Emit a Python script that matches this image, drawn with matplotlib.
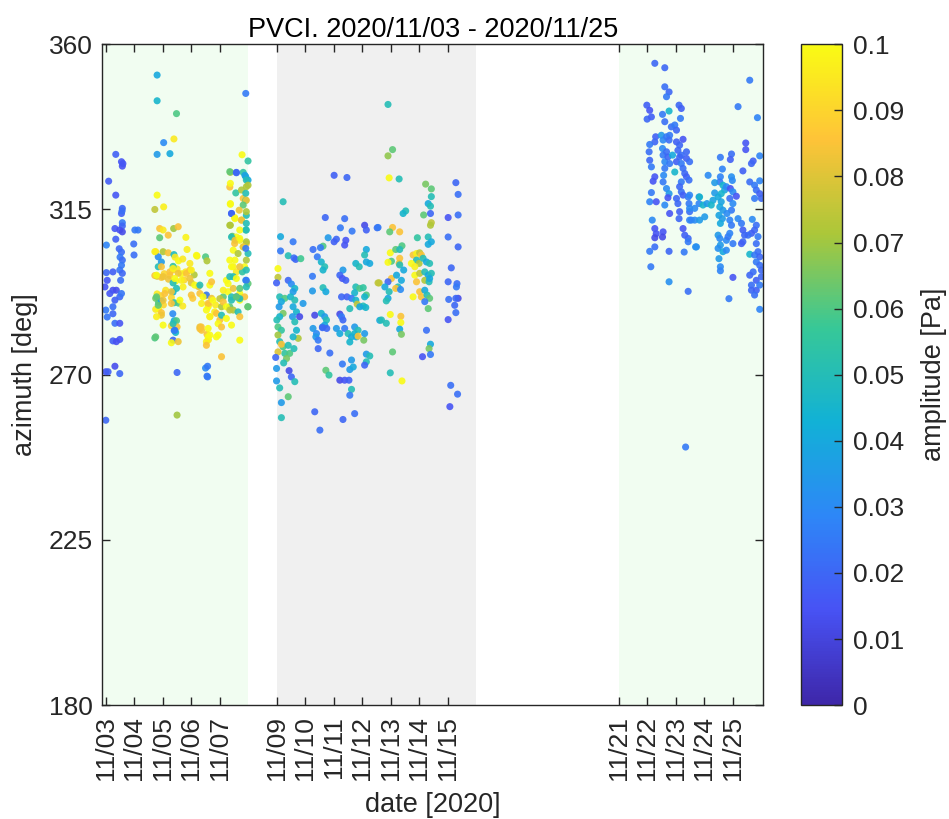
import numpy as np
import matplotlib
matplotlib.use("Agg")
import matplotlib.pyplot as plt
from matplotlib.colors import LinearSegmentedColormap

plt.rcParams['font.family'] = ['Liberation Sans', 'DejaVu Sans']

# detections: (day of November 2020, azimuth [deg], amplitude [Pa])
nov03 = [
    (3.35, 330.0, 0.018), (3.55, 328.0, 0.015), (3.58, 326.8, 0.014), (3.60, 327.5, 0.016),
    (3.10, 322.7, 0.017), (3.35, 318.9, 0.016), (3.58, 315.3, 0.020), (3.55, 313.9, 0.018),
    (3.57, 314.6, 0.022), (3.58, 311.4, 0.025), (3.58, 310.5, 0.020), (3.32, 309.8, 0.016),
    (3.49, 309.4, 0.014), (3.58, 308.9, 0.012), (3.02, 305.3, 0.028), (3.35, 306.9, 0.018),
    (4.02, 309.4, 0.025), (4.13, 309.4, 0.025), (3.98, 305.6, 0.022), (3.99, 302.6, 0.022),
    (3.47, 304.3, 0.020), (3.55, 303.4, 0.022), (3.50, 302.0, 0.025), (3.58, 301.2, 0.022),
    (3.55, 299.8, 0.025), (3.49, 298.5, 0.024), (3.58, 297.6, 0.020), (3.52, 295.7, 0.022),
    (3.02, 297.8, 0.020), (3.25, 298.0, 0.018), (3.05, 295.7, 0.016), (2.97, 293.9, 0.015),
    (3.25, 293.0, 0.014), (3.37, 293.0, 0.013), (3.14, 292.1, 0.016), (3.32, 290.3, 0.018),
    (3.49, 291.2, 0.020), (3.55, 292.1, 0.024), (3.00, 287.6, 0.025), (3.25, 288.5, 0.022),
    (3.05, 285.7, 0.024), (3.25, 286.6, 0.020), (3.32, 284.0, 0.022), (3.49, 284.0, 0.015),
    (3.25, 279.2, 0.018), (3.49, 279.6, 0.016), (3.37, 279.0, 0.014), (3.32, 272.3, 0.013),
    (3.00, 270.8, 0.016), (3.08, 270.8, 0.018), (3.49, 270.3, 0.020), (3.00, 257.6, 0.020),
]

nov05 = [
    (4.80, 351.6, 0.040), (4.80, 344.6, 0.045), (5.48, 341.1, 0.060), (5.03, 333.2, 0.030),
    (5.39, 334.2, 0.095), (4.80, 330.0, 0.035), (5.25, 330.2, 0.040), (4.80, 318.9, 0.100),
    (5.03, 315.7, 0.097), (4.72, 315.0, 0.075), (4.89, 309.8, 0.085), (5.01, 309.4, 0.095),
    (5.19, 308.0, 0.085), (5.38, 309.8, 0.070), (5.54, 310.3, 0.085), (4.89, 307.3, 0.062),
    (5.81, 307.4, 0.098), (5.85, 304.1, 0.097), (4.75, 303.5, 0.092), (5.01, 303.5, 0.072),
    (5.19, 303.2, 0.085), (5.39, 302.7, 0.048), (4.84, 302.1, 0.030), (4.95, 300.7, 0.035),
    (5.43, 302.0, 0.095), (5.55, 301.0, 0.100), (5.70, 301.5, 0.095), (6.20, 302.3, 0.095),
    (6.50, 302.1, 0.060), (6.55, 301.0, 0.072), (4.84, 299.4, 0.050), (4.72, 297.0, 0.085),
    (4.80, 296.8, 0.080), (4.95, 296.5, 0.085), (5.05, 297.5, 0.090), (5.25, 297.0, 0.085),
    (5.35, 298.5, 0.090), (5.50, 298.8, 0.095), (5.65, 297.5, 0.098), (5.80, 298.0, 0.095),
    (5.95, 298.5, 0.085), (6.10, 297.2, 0.072), (5.20, 296.0, 0.083), (5.45, 295.5, 0.100),
    (5.75, 295.8, 0.090), (6.00, 295.0, 0.080), (6.25, 294.0, 0.082), (5.36, 299.5, 0.055),
    (5.36, 295.0, 0.050), (5.36, 292.5, 0.045), (4.80, 292.0, 0.095), (4.93, 291.5, 0.090),
    (5.10, 293.0, 0.094), (4.75, 290.8, 0.065), (4.85, 289.6, 0.060), (4.95, 290.0, 0.040),
    (5.02, 289.0, 0.090), (5.30, 291.0, 0.090), (5.40, 289.6, 0.050), (5.55, 289.5, 0.060),
    (5.70, 288.7, 0.095), (6.05, 290.8, 0.087), (6.50, 291.5, 0.090), (6.60, 289.0, 0.085),
    (6.85, 289.0, 0.096), (4.75, 287.8, 0.095), (4.85, 287.9, 0.100), (4.95, 286.9, 0.085),
    (5.35, 286.6, 0.030), (5.40, 284.7, 0.040), (5.48, 284.7, 0.060), (5.50, 283.0, 0.085),
    (5.30, 283.3, 0.090), (4.72, 280.0, 0.060), (5.40, 282.0, 0.025), (5.45, 281.5, 0.045),
    (6.30, 282.5, 0.085), (6.55, 281.0, 0.085), (6.60, 279.5, 0.095), (6.50, 271.8, 0.030),
    (5.50, 270.6, 0.020), (6.55, 269.6, 0.025), (5.50, 259.0, 0.070),
]

nov06 = [
    (4.72, 303.5, 0.097), (4.95, 299.4, 0.085), (4.78, 297.1, 0.100), (5.01, 296.7, 0.083),
    (5.25, 298.0, 0.085), (5.36, 298.9, 0.097), (5.54, 297.6, 0.083), (5.42, 296.2, 0.100),
    (5.65, 295.7, 0.097), (5.83, 297.6, 0.085), (6.00, 298.5, 0.097), (5.95, 296.2, 0.083),
    (6.12, 294.4, 0.100), (6.30, 294.4, 0.050), (5.71, 293.9, 0.097), (5.48, 293.5, 0.050),
    (5.30, 292.6, 0.083), (5.07, 292.1, 0.085), (4.78, 291.2, 0.062), (5.01, 290.3, 0.083),
    (4.84, 288.9, 0.062), (5.30, 289.4, 0.085), (5.60, 290.3, 0.100), (6.00, 291.7, 0.085),
    (6.36, 289.4, 0.097), (6.53, 291.7, 0.025), (6.65, 294.4, 0.100), (6.71, 290.8, 0.083),
    (6.59, 288.5, 0.100), (6.82, 287.1, 0.097), (6.65, 285.8, 0.100), (7.06, 288.5, 0.072),
    (7.00, 284.9, 0.085), (7.12, 291.2, 0.062), (7.29, 292.6, 0.100), (7.35, 288.5, 0.062),
    (7.47, 287.6, 0.072), (7.70, 290.3, 0.100), (7.64, 287.1, 0.050), (7.70, 291.2, 0.048),
    (4.95, 286.2, 0.083), (4.78, 285.8, 0.097), (5.01, 283.5, 0.100), (5.36, 283.9, 0.050),
    (5.42, 282.1, 0.025), (5.36, 279.4, 0.020), (5.54, 279.0, 0.083), (5.30, 278.7, 0.100),
    (6.30, 283.0, 0.083), (6.36, 282.1, 0.085), (6.59, 280.3, 0.100), (6.53, 279.0, 0.097),
    (6.94, 280.8, 0.100), (4.75, 280.3, 0.062),
]

nov07 = [
    (7.91, 346.6, 0.025), (7.78, 329.9, 0.100), (7.99, 328.2, 0.055), (7.37, 325.1, 0.070),
    (7.58, 325.1, 0.020), (7.82, 325.1, 0.055), (7.91, 323.9, 0.040), (7.99, 323.0, 0.040),
    (7.93, 321.2, 0.072), (7.35, 321.1, 0.085), (7.56, 319.5, 0.055), (7.37, 316.4, 0.100),
    (7.82, 318.0, 0.085), (7.91, 317.5, 0.060), (7.41, 313.9, 0.018), (7.52, 312.8, 0.097),
    (7.37, 310.7, 0.072), (7.76, 312.1, 0.085), (7.93, 313.4, 0.050), (7.44, 307.7, 0.065),
    (7.58, 307.5, 0.100), (7.91, 309.4, 0.055), (7.52, 305.7, 0.085), (7.70, 306.6, 0.097),
    (7.93, 305.7, 0.085), (7.82, 304.8, 0.100), (7.99, 303.0, 0.050), (6.18, 302.5, 0.100),
    (5.95, 300.3, 0.095), (7.35, 301.2, 0.100), (7.47, 299.4, 0.098), (7.58, 298.0, 0.095),
    (7.87, 299.4, 0.100), (7.79, 298.0, 0.055), (7.91, 295.7, 0.030), (7.99, 294.8, 0.062),
    (7.47, 296.7, 0.050), (7.23, 295.7, 0.100), (7.12, 293.0, 0.097), (7.70, 292.1, 0.100),
    (7.87, 291.2, 0.085), (7.58, 291.2, 0.025), (7.41, 290.3, 0.050), (7.70, 290.7, 0.050),
    (7.98, 288.5, 0.065), (6.65, 297.6, 0.100), (6.71, 295.3, 0.085), (6.30, 292.1, 0.085),
    (6.41, 291.2, 0.100), (6.59, 289.4, 0.085), (6.76, 290.3, 0.100), (7.00, 290.7, 0.075),
    (7.12, 289.8, 0.085), (7.23, 288.5, 0.100), (7.35, 287.6, 0.075), (6.53, 287.6, 0.100),
    (6.65, 285.8, 0.097), (6.88, 286.7, 0.085), (7.06, 286.2, 0.050), (7.23, 285.3, 0.100),
    (6.35, 283.0, 0.085), (6.59, 282.6, 0.100), (6.94, 283.9, 0.100), (7.06, 283.0, 0.085),
    (7.41, 283.5, 0.100), (7.70, 285.8, 0.085), (6.65, 280.8, 0.100), (6.53, 278.0, 0.085),
    (6.88, 280.3, 0.100), (7.70, 279.4, 0.100), (7.06, 274.9, 0.085), (6.57, 272.3, 0.025),
    (6.57, 269.4, 0.025),
    (7.35, 325.3, 0.062), (7.58, 325.0, 0.020), (7.88, 324.3, 0.038), (7.93, 323.0, 0.050),
    (7.99, 321.6, 0.072), (7.37, 322.1, 0.100), (7.76, 320.3, 0.072), (7.91, 319.4, 0.050),
    (7.37, 316.6, 0.100), (7.93, 317.5, 0.083), (7.82, 316.2, 0.062), (7.41, 313.9, 0.020),
    (7.68, 314.8, 0.083), (7.93, 314.4, 0.072), (7.53, 312.5, 0.100), (7.76, 312.1, 0.083),
    (7.35, 310.7, 0.072), (7.93, 311.2, 0.050), (7.70, 309.4, 0.100), (7.93, 309.4, 0.050),
    (7.41, 307.5, 0.050), (7.53, 306.6, 0.083), (7.70, 307.1, 0.100), (7.93, 306.2, 0.072),
    (7.82, 304.8, 0.083), (7.91, 304.4, 0.025), (7.47, 303.9, 0.100), (7.64, 303.0, 0.072),
    (7.53, 301.2, 0.100), (7.93, 301.2, 0.072), (7.41, 299.4, 0.100), (7.70, 299.4, 0.083),
    (7.93, 298.5, 0.050), (7.35, 296.7, 0.050), (7.58, 296.2, 0.100), (7.93, 295.7, 0.025),
    (7.29, 294.8, 0.100), (7.47, 293.5, 0.083), (7.70, 293.5, 0.062), (7.93, 293.9, 0.050),
    (7.41, 291.2, 0.050), (7.58, 291.2, 0.062), (7.99, 288.5, 0.062),
]

nov09 = [
    (11.01, 324.3, 0.018), (11.46, 323.7, 0.020), (9.22, 317.1, 0.050), (10.70, 312.8, 0.020),
    (11.38, 312.5, 0.022), (11.23, 310.0, 0.025), (12.08, 310.7, 0.012), (12.14, 309.4, 0.018),
    (12.52, 310.0, 0.022), (11.64, 309.1, 0.025), (9.13, 307.6, 0.040), (9.57, 306.2, 0.025),
    (10.80, 307.3, 0.035), (11.09, 306.9, 0.020), (11.01, 306.2, 0.018), (11.42, 306.6, 0.015),
    (11.38, 305.3, 0.015), (10.62, 305.0, 0.060), (10.53, 304.6, 0.025), (10.27, 304.1, 0.022),
    (9.13, 303.7, 0.025), (12.14, 304.1, 0.040), (12.08, 302.6, 0.050), (9.40, 302.4, 0.050),
    (9.60, 301.8, 0.022), (9.66, 301.4, 0.020), (9.84, 301.6, 0.058), (10.42, 302.1, 0.025),
    (10.56, 300.7, 0.045), (10.68, 299.4, 0.050), (10.62, 298.5, 0.045), (11.77, 300.3, 0.045),
    (11.89, 299.4, 0.050), (12.14, 300.7, 0.040), (11.32, 298.5, 0.035), (9.04, 298.9, 0.100),
    (9.04, 296.5, 0.075), (10.25, 296.8, 0.025), (11.21, 297.1, 0.020), (11.30, 296.2, 0.015),
    (11.42, 295.7, 0.018), (8.99, 295.0, 0.018), (9.40, 295.7, 0.020), (9.51, 294.7, 0.030),
    (9.63, 293.5, 0.045), (9.57, 292.6, 0.035), (10.25, 292.8, 0.035), (10.62, 293.7, 0.050),
    (10.72, 292.6, 0.040), (12.55, 295.0, 0.075), (11.77, 293.9, 0.050), (11.91, 293.5, 0.060),
    (12.03, 293.7, 0.055), (11.73, 292.3, 0.045), (12.14, 291.7, 0.060), (12.08, 291.2, 0.045),
    (12.03, 288.7, 0.050), (12.12, 288.3, 0.045), (11.27, 291.2, 0.020), (11.46, 291.2, 0.018),
    (11.62, 290.8, 0.025), (11.77, 290.3, 0.045), (11.82, 289.2, 0.075), (11.56, 288.0, 0.050),
    (11.91, 288.5, 0.040), (9.10, 291.2, 0.050), (9.28, 290.8, 0.060), (9.16, 289.9, 0.040),
    (9.08, 288.5, 0.035), (9.22, 286.7, 0.065), (9.10, 285.8, 0.045), (9.48, 291.2, 0.045),
    (9.63, 290.3, 0.050), (9.57, 288.5, 0.040), (9.69, 287.1, 0.045), (9.55, 285.8, 0.035),
    (9.63, 284.4, 0.050), (9.69, 282.1, 0.045), (9.92, 289.4, 0.035), (9.80, 285.8, 0.012),
    (10.33, 286.2, 0.012), (10.56, 286.7, 0.045), (10.68, 285.8, 0.035), (10.74, 284.9, 0.050),
    (10.68, 283.5, 0.040), (10.60, 283.0, 0.035), (10.75, 282.6, 0.020), (11.21, 286.5, 0.012),
    (11.27, 285.8, 0.025), (11.32, 284.9, 0.020), (11.09, 282.6, 0.035), (11.21, 281.2, 0.040),
    (11.38, 282.6, 0.025), (11.50, 281.2, 0.050), (11.62, 280.3, 0.040), (11.56, 278.9, 0.045),
    (11.73, 283.0, 0.035), (11.85, 282.1, 0.050), (11.73, 281.2, 0.045), (11.79, 280.3, 0.040),
    (11.85, 280.5, 0.085), (12.05, 279.4, 0.065), (12.08, 281.2, 0.035), (10.27, 282.6, 0.035),
    (10.39, 281.2, 0.030), (10.37, 280.3, 0.035), (10.45, 279.4, 0.025), (10.60, 282.8, 0.020),
    (9.00, 284.9, 0.050), (9.04, 283.0, 0.060), (9.16, 282.1, 0.055), (9.04, 280.8, 0.070),
    (9.10, 279.0, 0.050), (9.22, 277.6, 0.060), (9.28, 275.8, 0.055), (9.04, 276.2, 0.080),
    (9.16, 278.3, 0.085), (9.40, 278.0, 0.050), (9.45, 275.8, 0.060), (9.34, 274.4, 0.065),
    (9.24, 273.2, 0.050), (9.75, 279.9, 0.072), (9.57, 280.3, 0.045), (9.60, 277.1, 0.050),
    (10.45, 277.1, 0.020), (10.86, 275.9, 0.022), (8.96, 274.7, 0.020), (11.30, 272.9, 0.025),
    (11.62, 274.0, 0.035), (11.56, 271.4, 0.035), (11.68, 272.1, 0.040), (12.14, 275.6, 0.035),
    (12.14, 273.5, 0.050), (12.08, 272.6, 0.020), (8.99, 271.7, 0.035), (9.43, 271.1, 0.012),
    (9.51, 269.4, 0.020), (9.63, 268.1, 0.050), (10.72, 271.2, 0.062), (10.83, 269.9, 0.055),
    (11.21, 268.5, 0.012), (11.38, 268.5, 0.015), (11.53, 268.5, 0.018), (11.62, 266.0, 0.050),
    (8.99, 268.3, 0.035), (9.10, 266.4, 0.050), (9.40, 264.0, 0.062), (9.16, 262.4, 0.035),
    (11.56, 264.4, 0.025), (9.16, 258.3, 0.050), (10.33, 259.9, 0.020), (11.32, 257.8, 0.020),
    (11.73, 259.4, 0.022), (10.51, 254.9, 0.022), (12.61, 284.8, 0.040),
]

nov13 = [
    (12.90, 343.6, 0.050), (13.06, 331.3, 0.062), (12.90, 329.6, 0.068), (12.94, 323.6, 0.100),
    (13.29, 323.3, 0.050), (14.22, 321.9, 0.065), (14.42, 320.6, 0.062), (14.42, 318.5, 0.050),
    (15.28, 322.3, 0.020), (15.36, 319.1, 0.022), (14.31, 316.6, 0.040), (14.39, 315.9, 0.050),
    (13.52, 314.6, 0.050), (13.43, 313.9, 0.045), (14.15, 313.5, 0.062), (14.39, 313.9, 0.020),
    (15.01, 312.8, 0.015), (15.36, 313.5, 0.022), (14.42, 311.4, 0.075), (14.39, 310.7, 0.072),
    (12.55, 310.1, 0.025), (13.06, 310.1, 0.085), (12.96, 308.9, 0.062), (13.31, 308.9, 0.085),
    (13.93, 307.3, 0.055), (14.31, 307.5, 0.050), (15.01, 307.5, 0.022), (13.39, 305.1, 0.060),
    (14.42, 306.2, 0.040), (14.31, 305.5, 0.040), (15.36, 304.8, 0.020), (12.98, 303.2, 0.100),
    (13.17, 304.1, 0.062), (13.31, 304.1, 0.050), (13.02, 300.9, 0.060), (12.90, 300.6, 0.100),
    (13.31, 301.7, 0.085), (13.29, 300.3, 0.082), (13.31, 299.9, 0.050), (13.78, 302.6, 0.085),
    (13.90, 303.0, 0.097), (14.01, 303.2, 0.075), (14.07, 302.6, 0.085), (13.90, 301.2, 0.050),
    (13.99, 300.3, 0.072), (14.13, 301.7, 0.050), (14.25, 300.7, 0.040), (14.36, 300.3, 0.050),
    (13.72, 300.3, 0.100), (13.84, 299.4, 0.097), (15.12, 299.1, 0.020), (13.84, 297.1, 0.100),
    (14.01, 297.6, 0.075), (14.19, 298.0, 0.050), (14.31, 297.1, 0.040), (14.42, 297.6, 0.050),
    (13.90, 295.3, 0.085), (14.19, 295.7, 0.072), (14.34, 295.3, 0.050), (14.36, 296.2, 0.040),
    (13.02, 296.2, 0.085), (12.90, 295.3, 0.020), (12.59, 295.0, 0.075), (12.79, 293.9, 0.040),
    (13.20, 297.1, 0.040), (13.37, 295.7, 0.040), (13.45, 298.5, 0.040), (13.25, 293.9, 0.050),
    (13.17, 293.5, 0.085), (13.34, 293.2, 0.030), (14.01, 292.6, 0.085), (14.07, 291.2, 0.085),
    (14.19, 293.0, 0.040), (14.27, 291.7, 0.050), (14.36, 290.8, 0.062), (14.19, 289.9, 0.025),
    (15.01, 295.3, 0.020), (15.32, 294.8, 0.022), (15.30, 293.9, 0.025), (15.36, 290.8, 0.012),
    (15.28, 290.8, 0.020), (15.03, 290.5, 0.022), (12.94, 292.6, 0.050), (12.90, 290.8, 0.040),
    (12.84, 290.1, 0.050), (13.78, 291.2, 0.100), (14.31, 288.0, 0.062), (15.24, 288.9, 0.020),
    (15.28, 286.9, 0.022), (15.01, 285.0, 0.015), (12.67, 284.9, 0.050), (12.84, 284.0, 0.050),
    (12.98, 286.4, 0.100), (13.35, 285.9, 0.085), (13.35, 284.2, 0.100), (13.31, 282.4, 0.040),
    (13.37, 281.0, 0.065), (14.25, 282.1, 0.022), (14.39, 278.3, 0.040), (14.34, 277.1, 0.065),
    (14.39, 275.5, 0.025), (14.11, 274.9, 0.015), (13.06, 276.2, 0.062), (12.98, 270.5, 0.050),
    (13.39, 268.3, 0.100), (15.10, 267.1, 0.022), (15.34, 264.7, 0.022), (15.07, 261.3, 0.015),
    (12.26, 275.1, 0.050), (12.26, 300.3, 0.040),
]

nov21 = [
    (22.26, 354.8, 0.020), (22.61, 353.6, 0.020), (22.61, 348.4, 0.022), (22.76, 347.0, 0.020),
    (22.67, 345.7, 0.025), (21.98, 343.4, 0.018), (22.08, 342.0, 0.015), (21.99, 339.6, 0.020),
    (22.14, 340.2, 0.018), (22.76, 341.8, 0.045), (22.53, 340.9, 0.025), (22.61, 338.9, 0.022),
    (23.11, 343.4, 0.020), (23.19, 342.5, 0.018), (23.16, 339.8, 0.025), (22.84, 337.5, 0.022),
    (22.96, 338.0, 0.025), (23.02, 336.6, 0.020), (22.29, 334.8, 0.018), (22.26, 333.4, 0.020),
    (22.08, 332.7, 0.025), (22.49, 335.2, 0.035), (22.55, 333.9, 0.030), (22.67, 334.8, 0.025),
    (22.78, 335.2, 0.025), (22.76, 333.9, 0.022), (23.02, 333.4, 0.018), (23.13, 332.5, 0.020),
    (23.25, 334.1, 0.015), (23.07, 331.1, 0.020), (23.19, 329.8, 0.022), (22.53, 331.6, 0.030),
    (22.55, 329.8, 0.025), (22.61, 328.0, 0.030), (22.61, 326.2, 0.025), (22.67, 330.7, 0.022),
    (22.72, 329.3, 0.020), (22.78, 327.5, 0.025), (22.88, 329.8, 0.040), (22.96, 325.2, 0.045),
    (23.02, 328.0, 0.018), (23.13, 329.3, 0.020), (23.19, 327.5, 0.025), (23.25, 326.2, 0.022),
    (23.37, 330.7, 0.020), (23.37, 328.9, 0.018), (23.48, 328.0, 0.022), (23.31, 324.8, 0.020),
    (23.37, 323.9, 0.018), (23.46, 323.0, 0.022), (23.19, 322.5, 0.025), (22.06, 330.7, 0.022),
    (22.08, 328.4, 0.020), (22.14, 326.6, 0.025), (22.26, 323.9, 0.015), (22.20, 322.7, 0.015),
    (22.57, 324.3, 0.030), (22.55, 322.5, 0.025), (22.67, 320.7, 0.030), (22.76, 319.3, 0.035),
    (23.13, 321.2, 0.020), (23.19, 319.8, 0.022), (23.25, 318.9, 0.018), (23.43, 318.4, 0.025),
    (23.02, 318.0, 0.020), (22.14, 319.6, 0.025), (22.08, 317.1, 0.028), (22.31, 317.1, 0.015),
    (22.61, 316.2, 0.030), (22.72, 318.2, 0.015), (23.07, 316.6, 0.020), (23.13, 314.4, 0.018),
    (23.11, 312.5, 0.020), (23.46, 316.6, 0.025), (23.48, 314.4, 0.022), (23.54, 312.1, 0.028),
    (23.66, 312.1, 0.030), (23.81, 318.4, 0.030), (23.81, 316.6, 0.028), (22.78, 313.9, 0.015),
    (22.17, 312.1, 0.030), (22.26, 309.8, 0.015), (22.31, 308.4, 0.015), (22.26, 307.3, 0.012),
    (22.55, 308.9, 0.015), (22.53, 307.5, 0.012), (23.25, 309.8, 0.015), (23.31, 308.0, 0.018),
    (23.43, 307.1, 0.020), (23.43, 306.2, 0.025), (23.69, 304.8, 0.032), (22.08, 303.6, 0.025),
    (22.26, 304.8, 0.022), (22.76, 303.6, 0.020), (23.29, 303.4, 0.025), (22.12, 299.4, 0.025),
    (22.76, 295.3, 0.032), (23.43, 292.7, 0.022), (23.34, 250.3, 0.025),
]

nov24 = [
    (25.59, 350.2, 0.025), (25.18, 343.0, 0.025), (25.86, 340.0, 0.028), (25.45, 333.1, 0.015),
    (25.45, 331.3, 0.015), (25.94, 329.6, 0.028), (24.95, 330.1, 0.022), (24.91, 328.6, 0.018),
    (24.56, 329.2, 0.025), (25.71, 328.2, 0.018), (25.65, 327.5, 0.020), (24.63, 326.0, 0.028),
    (25.35, 325.5, 0.018), (24.13, 324.3, 0.030), (24.56, 323.9, 0.028), (24.54, 322.5, 0.025),
    (24.95, 323.9, 0.032), (24.98, 322.9, 0.030), (24.36, 322.3, 0.035), (25.59, 322.5, 0.022),
    (25.76, 321.6, 0.025), (25.94, 322.8, 0.028), (24.65, 321.6, 0.045), (24.71, 320.3, 0.038),
    (24.77, 321.2, 0.030), (24.59, 319.3, 0.045), (24.91, 320.7, 0.015), (25.00, 319.8, 0.030),
    (25.12, 318.6, 0.015), (24.36, 319.5, 0.035), (24.30, 317.5, 0.038), (25.82, 320.3, 0.022),
    (25.94, 319.3, 0.018), (26.00, 318.0, 0.020), (25.76, 318.0, 0.025), (23.83, 318.4, 0.045),
    (23.95, 316.2, 0.045), (24.09, 316.6, 0.035), (24.24, 316.2, 0.045), (23.48, 318.9, 0.028),
    (23.48, 315.3, 0.030), (24.48, 318.4, 0.040), (24.59, 317.1, 0.038), (24.54, 315.7, 0.040),
    (24.65, 314.8, 0.035), (24.51, 313.4, 0.038), (24.63, 312.5, 0.035), (24.56, 311.2, 0.040),
    (24.89, 318.0, 0.022), (25.00, 316.6, 0.030), (24.95, 314.8, 0.025), (24.79, 313.9, 0.030),
    (24.89, 312.1, 0.028), (24.95, 310.7, 0.025), (25.18, 312.5, 0.030), (25.30, 311.2, 0.025),
    (25.68, 312.3, 0.030), (25.82, 310.7, 0.022), (25.76, 309.4, 0.020), (25.65, 308.5, 0.018),
    (25.53, 308.0, 0.022), (25.88, 307.6, 0.025), (25.82, 305.7, 0.022), (25.35, 309.4, 0.018),
    (25.41, 308.0, 0.020), (23.66, 315.3, 0.030), (23.83, 312.1, 0.035), (24.01, 313.0, 0.035),
    (23.48, 312.1, 0.028), (24.48, 308.0, 0.035), (24.54, 307.1, 0.030), (24.56, 305.3, 0.035),
    (24.48, 304.4, 0.032), (24.65, 303.5, 0.040), (24.77, 306.6, 0.030), (24.83, 307.6, 0.025),
    (24.89, 308.5, 0.028), (25.00, 305.7, 0.025), (24.77, 303.9, 0.030), (25.35, 306.2, 0.020),
    (25.30, 305.7, 0.018), (23.72, 304.8, 0.032), (25.59, 302.8, 0.045), (25.76, 302.6, 0.025),
    (25.88, 303.5, 0.022), (25.94, 302.1, 0.020), (25.82, 300.7, 0.025), (25.94, 299.8, 0.022),
    (26.00, 298.5, 0.020), (24.51, 301.6, 0.035), (24.56, 299.4, 0.030), (24.56, 298.3, 0.028),
    (25.00, 296.5, 0.015), (25.71, 298.0, 0.022), (25.59, 297.1, 0.020), (25.82, 295.7, 0.018),
    (25.65, 294.4, 0.022), (25.65, 293.0, 0.020), (25.82, 293.0, 0.018), (25.76, 291.7, 0.022),
    (25.94, 294.4, 0.025), (26.00, 296.7, 0.020), (24.86, 290.7, 0.025), (25.94, 287.8, 0.028),
]

tick_days = [3, 4, 5, 6, 7, 9, 10, 11, 12, 13, 14, 15, 21, 22, 23, 24, 25]
tick_labels = ['11/%02d' % d for d in tick_days]
green_spans = [(2.88, 8.0), (21.0, 26.06)]
gray_spans = [(9.0, 16.0)]

pts = np.array(nov03 + nov05 + nov06 + nov07 + nov09 + nov13 + nov21 + nov24)
day, az, amp = pts[:, 0], pts[:, 1], pts[:, 2]

parula = LinearSegmentedColormap.from_list('parula', [
    (0.2422, 0.1504, 0.6603), (0.2810, 0.3228, 0.9579), (0.1786, 0.5289, 0.9682),
    (0.0689, 0.6948, 0.8394), (0.2161, 0.7843, 0.5923), (0.6720, 0.7793, 0.2227),
    (0.9970, 0.7659, 0.2199), (0.9769, 0.9839, 0.0805)])

ink = '#262626'
fig = plt.figure(figsize=(9.49, 8.19), dpi=100)
ax = fig.add_axes([0.108, 0.139, 0.696, 0.807])
cax = fig.add_axes([0.844, 0.139, 0.043, 0.807])

for a, b in green_spans:
    ax.axvspan(a, b, color='#f1fdf1', lw=0, zorder=0)
for a, b in gray_spans:
    ax.axvspan(a, b, color='#f0f0f0', lw=0, zorder=0)

sc = ax.scatter(day, az, c=amp, s=26, cmap=parula, vmin=0, vmax=0.1,
                edgecolors='none', alpha=0.9, zorder=2)

ax.set_xlim(2.884, 26.055)
ax.set_ylim(180, 360)
ax.set_yticks([180, 225, 270, 315, 360])
ax.set_xticks(tick_days)
ax.set_xticklabels(tick_labels, rotation=90)
ax.tick_params(direction='in', length=6, width=1, colors=ink, labelsize=19,
               top=True, right=True)
ax.tick_params(axis='x', pad=8)
ax.tick_params(axis='y', pad=7)
for sp in ax.spines.values():
    sp.set_color(ink)
    sp.set_linewidth(1)

ax.set_title('PVCI. 2020/11/03 - 2020/11/25', fontsize=19.5, color='black', pad=5)
ax.set_xlabel('date [2020]', fontsize=19.5, color=ink, labelpad=8)
ax.set_ylabel('azimuth [deg]', fontsize=19.5, color=ink, labelpad=8)

cb = fig.colorbar(sc, cax=cax)
cb.solids.set_alpha(1)
cb.set_ticks(np.arange(0, 0.101, 0.01))
cb.set_ticklabels(['0', '0.01', '0.02', '0.03', '0.04', '0.05', '0.06', '0.07',
                   '0.08', '0.09', '0.1'])
cax.tick_params(direction='in', length=6, width=1, colors=ink, labelsize=19, pad=8)
cb.outline.set_edgecolor(ink)
cb.outline.set_linewidth(1)
cb.set_label('amplitude [Pa]', fontsize=19.5, color=ink, labelpad=12)

fig.savefig('out.png', dpi=100)
